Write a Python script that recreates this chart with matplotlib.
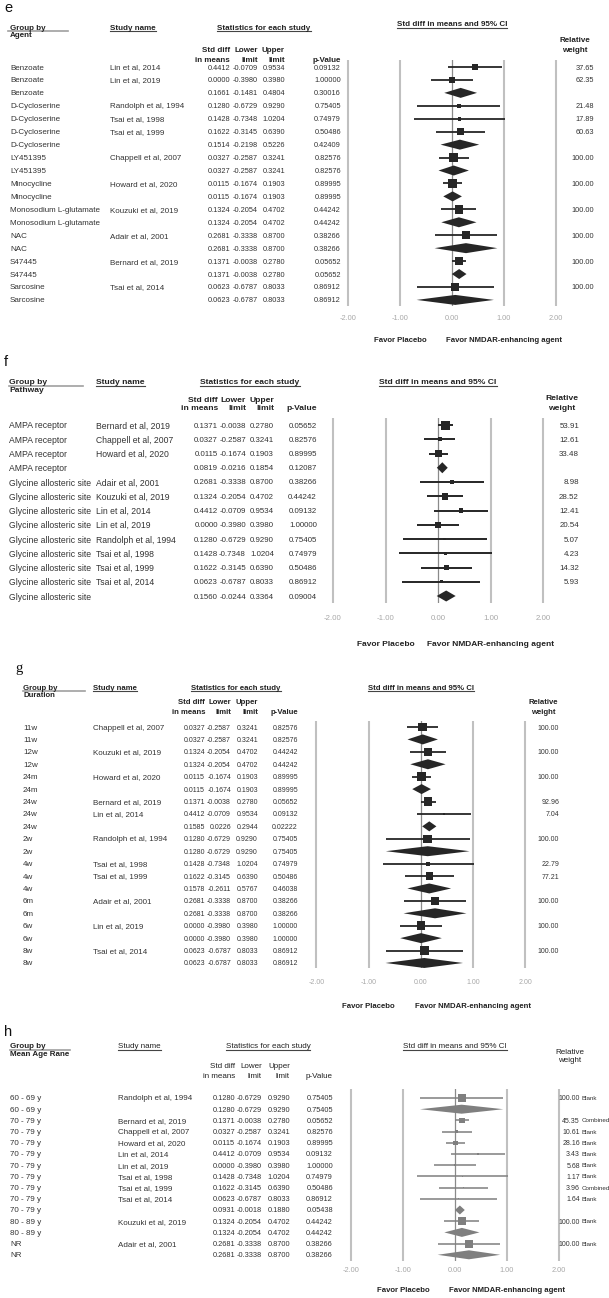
import matplotlib
matplotlib.use("Agg")
import matplotlib.pyplot as plt
from matplotlib.transforms import Affine2D, blended_transform_factory
from matplotlib.lines import Line2D
import numpy as np

plt.rcParams['font.family'] = ['Liberation Sans', 'DejaVu Sans']

W, H = 609, 1298

# ---------------- data ----------------
ticks = [-2, -1, 0, 1, 2]
tick_labels = ["-2.00", "-1.00", "0.00", "1.00", "2.00"]
favor_left = "Favor Placebo"
favor_right = "Favor NMDAR-enhancing agent"

# Panel e : by agent
e_groups = ["Benzoate", "Benzoate", "Benzoate",
            "D-Cycloserine", "D-Cycloserine", "D-Cycloserine", "D-Cycloserine",
            "LY451395", "LY451395", "Minocycline", "Minocycline",
            "Monosodium L-glutamate", "Monosodium L-glutamate", "NAC", "NAC",
            "S47445", "S47445", "Sarcosine", "Sarcosine"]
e_studies = ["Lin et al, 2014", "Lin et al, 2019", "",
             "Randolph et al, 1994", "Tsai et al, 1998", "Tsai et al, 1999", "",
             "Chappell et al, 2007", "", "Howard et al, 2020", "",
             "Kouzuki et al, 2019", "", "Adair et al, 2001", "",
             "Bernard et al, 2019", "", "Tsai et al, 2014", ""]
e_smd = [0.4412, 0.0000, 0.1661, 0.1280, 0.1428, 0.1622, 0.1514, 0.0327, 0.0327,
         0.0115, 0.0115, 0.1324, 0.1324, 0.2681, 0.2681, 0.1371, 0.1371, 0.0623, 0.0623]
e_lower = [-0.0709, -0.3980, -0.1481, -0.6729, -0.7348, -0.3145, -0.2198, -0.2587, -0.2587,
           -0.1674, -0.1674, -0.2054, -0.2054, -0.3338, -0.3338, -0.0038, -0.0038, -0.6787, -0.6787]
e_upper = [0.9534, 0.3980, 0.4804, 0.9290, 1.0204, 0.6390, 0.5226, 0.3241, 0.3241,
           0.1903, 0.1903, 0.4702, 0.4702, 0.8700, 0.8700, 0.2780, 0.2780, 0.8033, 0.8033]
e_p = ["0.09132", "1.00000", "0.30016", "0.75405", "0.74979", "0.50486", "0.42409",
       "0.82576", "0.82576", "0.89995", "0.89995", "0.44242", "0.44242", "0.38266",
       "0.38266", "0.05652", "0.05652", "0.86912", "0.86912"]
e_weight = [37.65, 62.35, None, 21.48, 17.89, 60.63, None, 100.00, None, 100.00, None,
            100.00, None, 100.00, None, 100.00, None, 100.00, None]

# Panel f : by pathway
f_groups = ["AMPA receptor"] * 4 + ["Glycine allosteric site"] * 9
f_studies = ["Bernard et al, 2019", "Chappell et al, 2007", "Howard et al, 2020", "",
             "Adair et al, 2001", "Kouzuki et al, 2019", "Lin et al, 2014", "Lin et al, 2019",
             "Randolph et al, 1994", "Tsai et al, 1998", "Tsai et al, 1999", "Tsai et al, 2014", ""]
f_smd = [0.1371, 0.0327, 0.0115, 0.0819, 0.2681, 0.1324, 0.4412, 0.0000, 0.1280,
         0.1428, 0.1622, 0.0623, 0.1560]
f_lower = [-0.0038, -0.2587, -0.1674, -0.0216, -0.3338, -0.2054, -0.0709, -0.3980,
           -0.6729, -0.7348, -0.3145, -0.6787, -0.0244]
f_upper = [0.2780, 0.3241, 0.1903, 0.1854, 0.8700, 0.4702, 0.9534, 0.3980, 0.9290,
           1.0204, 0.6390, 0.8033, 0.3364]
f_p = ["0.05652", "0.82576", "0.89995", "0.12087", "0.38266", "0.44242", "0.09132",
       "1.00000", "0.75405", "0.74979", "0.50486", "0.86912", "0.09004"]
f_weight = [53.91, 12.61, 33.48, None, 8.98, 28.52, 12.41, 20.54, 5.07, 4.23, 14.32, 5.93, None]

# Panel g : by duration
g_groups = ["11w", "11w", "12w", "12w", "24m", "24m", "24w", "24w", "24w", "2w", "2w",
            "4w", "4w", "4w", "6m", "6m", "6w", "6w", "8w", "8w"]
g_studies = ["Chappell et al, 2007", "", "Kouzuki et al, 2019", "", "Howard et al, 2020", "",
             "Bernard et al, 2019", "Lin et al, 2014", "", "Randolph et al, 1994", "",
             "Tsai et al, 1998", "Tsai et al, 1999", "", "Adair et al, 2001", "",
             "Lin et al, 2019", "", "Tsai et al, 2014", ""]
g_smd = [0.0327, 0.0327, 0.1324, 0.1324, 0.0115, 0.0115, 0.1371, 0.4412, 0.1585, 0.1280,
         0.1280, 0.1428, 0.1622, 0.1578, 0.2681, 0.2681, 0.0000, 0.0000, 0.0623, 0.0623]
g_lower = [-0.2587, -0.2587, -0.2054, -0.2054, -0.1674, -0.1674, -0.0038, -0.0709, 0.0226,
           -0.6729, -0.6729, -0.7348, -0.3145, -0.2611, -0.3338, -0.3338, -0.3980, -0.3980,
           -0.6787, -0.6787]
g_upper = [0.3241, 0.3241, 0.4702, 0.4702, 0.1903, 0.1903, 0.2780, 0.9534, 0.2944, 0.9290,
           0.9290, 1.0204, 0.6390, 0.5767, 0.8700, 0.8700, 0.3980, 0.3980, 0.8033, 0.8033]
g_p = ["0.82576", "0.82576", "0.44242", "0.44242", "0.89995", "0.89995", "0.05652",
       "0.09132", "0.02222", "0.75405", "0.75405", "0.74979", "0.50486", "0.46038",
       "0.38266", "0.38266", "1.00000", "1.00000", "0.86912", "0.86912"]
g_weight = [100.00, None, 100.00, None, 100.00, None, 92.96, 7.04, None, 100.00, None,
            22.79, 77.21, None, 100.00, None, 100.00, None, 100.00, None]

# Panel h : by mean age range
h_groups = ["60 - 69 y"] * 2 + ["70 - 79 y"] * 9 + ["80 - 89 y"] * 2 + ["NR"] * 2
h_studies = ["Randolph et al, 1994", "", "Bernard et al, 2019", "Chappell et al, 2007",
             "Howard et al, 2020", "Lin et al, 2014", "Lin et al, 2019", "Tsai et al, 1998",
             "Tsai et al, 1999", "Tsai et al, 2014", "", "Kouzuki et al, 2019", "",
             "Adair et al, 2001", ""]
h_smd = [0.1280, 0.1280, 0.1371, 0.0327, 0.0115, 0.4412, 0.0000, 0.1428, 0.1622, 0.0623,
         0.0931, 0.1324, 0.1324, 0.2681, 0.2681]
h_lower = [-0.6729, -0.6729, -0.0038, -0.2587, -0.1674, -0.0709, -0.3980, -0.7348, -0.3145,
           -0.6787, -0.0018, -0.2054, -0.2054, -0.3338, -0.3338]
h_upper = [0.9290, 0.9290, 0.2780, 0.3241, 0.1903, 0.9534, 0.3980, 1.0204, 0.6390, 0.8033,
           0.1880, 0.4702, 0.4702, 0.8700, 0.8700]
h_p = ["0.75405", "0.75405", "0.05652", "0.82576", "0.89995", "0.09132", "1.00000",
       "0.74979", "0.50486", "0.86912", "0.05438", "0.44242", "0.44242", "0.38266", "0.38266"]
h_weight = [100.00, None, 45.35, 10.61, 28.16, 3.43, 5.68, 1.17, 3.96, 1.64, None,
            100.00, None, 100.00, None]
h_note = ["Blank", "", "Combined", "Blank", "Blank", "Blank", "Blank", "Blank", "Combined",
          "Blank", "", "Blank", "", "Blank", ""]

# ---------------- layout (pixels) ----------------
E = dict(label='e', label_family=['Liberation Sans'], label_xy=(4, 7), title='Agent',
         fs=5.8, hfs=5.8, nfs=5.3, wfs=5.3, x0=452, scale=52.1, grid_top=60, grid_bot=306,
         row0=67, dr=12.94, tick_y=318, favor_y=340, c_grp=10, c_study=110, c_sd=230,
         c_lo=258, c_up=285, c_p=341, c_w=594, c_note=None, nofs=5.3, h1=27, h2=34.5,
         ul_y=31, grp_ul=(8, 68), stat_center=264, sh1=49, sh2=59, ci_y=24, rw_center=575,
         rw1=40, rw2=50, box=8.5, dh=5, ci_lw=1.3, mcolor='#262626', hweight='bold')
F = dict(label='f', label_family=['Liberation Sans'], label_xy=(4, 360), title='Pathway',
         fs=6.2, hfs=6.1, nfs=5.7, wfs=5.7, x0=438, scale=52.5, grid_top=418, grid_bot=603,
         row0=425, dr=14.25, tick_y=617, favor_y=644, c_grp=9, c_study=96, c_sd=218,
         c_lo=246, c_up=274, c_p=317, c_w=579, c_note=None, nofs=5.7, h1=381.5, h2=389,
         ul_y=385.5, grp_ul=(9, 83), stat_center=250, sh1=399, sh2=408, ci_y=382,
         rw_center=562, rw1=398, rw2=408, box=9, dh=5.5, ci_lw=1.4, mcolor='#262626',
         hweight='bold')
G = dict(label='g', label_family=['Liberation Serif'], label_xy=(15, 667), title='Duration',
         fs=5.8, hfs=5.6, nfs=5.0, wfs=5.0, x0=421, scale=52.25, grid_top=721, grid_bot=968,
         row0=727, dr=12.42, tick_y=982, favor_y=1005, c_grp=23, c_study=93, c_sd=205,
         c_lo=231, c_up=258, c_p=298, c_w=559, c_note=None, nofs=5.0, h1=687, h2=694.5,
         ul_y=690.5, grp_ul=(23, 85), stat_center=236, sh1=702, sh2=711, ci_y=687,
         rw_center=543, rw1=702, rw2=711, box=8.5, dh=5, ci_lw=1.3, mcolor='#262626',
         hweight='bold')
Hh = dict(label='h', label_family=['Liberation Sans'], label_xy=(4, 1030), title='Mean Age Rane',
          fs=5.8, hfs=5.8, nfs=5.3, wfs=5.0, x0=455, scale=52.0, grid_top=1089, grid_bot=1261,
          row0=1098, dr=11.2, tick_y=1269, favor_y=1290, c_grp=10, c_study=118, c_sd=235,
          c_lo=262, c_up=290, c_p=333, c_w=580, c_note=581.5, nofs=4.5, h1=1046, h2=1054,
          ul_y=1050, grp_ul=(10, 70), stat_center=268, sh1=1066, sh2=1075, ci_y=1046,
          rw_center=570, rw1=1051, rw2=1060, box=8, dh=4.5, ci_lw=1.1, mcolor='#7f7f7f',
          hweight='normal')

fig = plt.figure(figsize=(W / 100, H / 100), dpi=100)
PX = Affine2D().scale(1 / W, -1 / H).translate(0, 1) + fig.transFigure
renderer = fig.canvas.get_renderer()
TXT = '#333333'
VA = 'center_baseline'


def ptext(x, y, s, **kw):
    kw.setdefault('va', VA)
    kw.setdefault('fontsize', 6)
    kw.setdefault('color', '#222222')
    return fig.text(x, y, s, transform=PX, **kw)


def underline(t, y, color='#444444', lw=0.8):
    bb = t.get_window_extent(renderer)
    fig.add_artist(Line2D([bb.x0, bb.x1], [y, y], transform=PX, color=color, lw=lw))


def panel(L, groups, studies, smd, lower, upper, pvals, weights, notes=None):
    n = len(groups)
    smd = np.array(smd, float)
    lower = np.array(lower, float)
    upper = np.array(upper, float)
    is_study = np.array([s != "" for s in studies])
    w = np.array([np.nan if v is None else v for v in weights], float)
    x0, sc = L['x0'], L['scale']
    gt, gb = L['grid_top'], L['grid_bot']
    ax = fig.add_axes([0, 1 - gb / H, 1, (gb - gt) / H])
    ax.set_xlim(-x0 / sc, (W - x0) / sc)
    r0, dr = L['row0'], L['dr']
    ax.set_ylim((gb - r0) / dr, (gt - r0) / dr)
    ax.set_axis_off()
    for t in ticks:
        if t == 0:
            ax.axvline(t, color='#8a8a8a', lw=0.9, zorder=1)
        else:
            ax.axvline(t, color='#c0c0c0', lw=1.5, zorder=1)
    y = np.arange(n)
    mc = L['mcolor']
    ax.hlines(y[is_study], lower[is_study], upper[is_study], color=mc, lw=L['ci_lw'], zorder=2)
    wmax = np.nanmax(w)
    side_px = L['box'] * np.sqrt(w[is_study] / wmax)
    ax.scatter(smd[is_study], y[is_study], s=(side_px * 0.72) ** 2, marker='s',
               color=mc, linewidths=0, zorder=3)
    hh = L['dh'] / dr
    for i in np.where(~is_study)[0]:
        ax.fill([lower[i], smd[i], upper[i], smd[i]], [i, i - hh, i, i + hh],
                color=mc, lw=0, zorder=3)

    T = blended_transform_factory(PX, ax.transData)
    fs, nfs = L['fs'], L['nfs']
    kw = dict(transform=T, va=VA, color=TXT)
    for i in range(n):
        ax.text(L['c_grp'], i, groups[i], ha='left', fontsize=fs, **kw)
        if studies[i]:
            ax.text(L['c_study'], i, studies[i], ha='left', fontsize=fs, **kw)
        ax.text(L['c_sd'], i, f"{smd[i]:.4f}", ha='right', fontsize=nfs, **kw)
        ax.text(L['c_lo'], i, f"{lower[i]:.4f}", ha='right', fontsize=nfs, **kw)
        ax.text(L['c_up'], i, f"{upper[i]:.4f}", ha='right', fontsize=nfs, **kw)
        ax.text(L['c_p'], i, pvals[i], ha='right', fontsize=nfs, **kw)
        if weights[i] is not None:
            ax.text(L['c_w'], i, f"{weights[i]:.2f}", ha='right', fontsize=L['wfs'], **kw)
        if notes is not None and notes[i]:
            ax.text(L['c_note'], i, notes[i], ha='left', fontsize=L['nofs'], **kw)

    TB = blended_transform_factory(ax.transData, PX)
    for t, lab in zip(ticks, tick_labels):
        ax.text(t, L['tick_y'], lab, transform=TB, ha='center', va=VA, fontsize=nfs, color='#a8a8a8')
    ax.text(-1, L['favor_y'], favor_left, transform=TB, ha='center', va=VA,
            fontsize=fs - 0.2, color='#222222', fontweight='bold')
    ax.text(1, L['favor_y'], favor_right, transform=TB, ha='center', va=VA,
            fontsize=fs - 0.2, color='#222222', fontweight='bold')

    # headers
    hw = L['hweight']
    hfs = L['hfs']
    ptext(L['label_xy'][0], L['label_xy'][1], L['label'], fontsize=10.5,
          family=L['label_family'], ha='left', color='#111111')
    ptext(L['c_grp'], L['h1'], "Group by", fontsize=hfs, fontweight='bold', ha='left')
    ptext(L['c_grp'], L['h2'], L['title'], fontsize=hfs, fontweight='bold', ha='left')
    fig.add_artist(Line2D(list(L['grp_ul']), [L['ul_y'], L['ul_y']], transform=PX,
                          color='#a0a0a0', lw=1.2))
    t = ptext(L['c_study'], L['h1'], "Study name", fontsize=hfs, fontweight=hw, ha='left')
    underline(t, L['ul_y'])
    t = ptext(L['stat_center'], L['h1'], "Statistics for each study", fontsize=hfs,
              fontweight=hw, ha='center')
    underline(t, L['ul_y'])
    ptext(L['c_sd'], L['sh1'], "Std diff", fontsize=hfs, fontweight=hw, ha='right')
    ptext(L['c_sd'], L['sh2'], "in means", fontsize=hfs, fontweight=hw, ha='right')
    ptext(L['c_lo'], L['sh1'], "Lower", fontsize=hfs, fontweight=hw, ha='right')
    ptext(L['c_lo'], L['sh2'], "limit", fontsize=hfs, fontweight=hw, ha='right')
    ptext(L['c_up'], L['sh1'], "Upper", fontsize=hfs, fontweight=hw, ha='right')
    ptext(L['c_up'], L['sh2'], "limit", fontsize=hfs, fontweight=hw, ha='right')
    ptext(L['c_p'], L['sh2'], "p-Value", fontsize=hfs, fontweight=hw, ha='right')
    t = ptext(L['x0'], L['ci_y'], "Std diff in means and 95% CI", fontsize=hfs,
              fontweight=hw, ha='center')
    underline(t, L['ci_y'] + 3.5)
    ptext(L['rw_center'], L['rw1'], "Relative", fontsize=hfs, fontweight=hw, ha='center')
    ptext(L['rw_center'], L['rw2'], "weight", fontsize=hfs, fontweight=hw, ha='center')


panel(E, e_groups, e_studies, e_smd, e_lower, e_upper, e_p, e_weight)
panel(F, f_groups, f_studies, f_smd, f_lower, f_upper, f_p, f_weight)
panel(G, g_groups, g_studies, g_smd, g_lower, g_upper, g_p, g_weight)
panel(Hh, h_groups, h_studies, h_smd, h_lower, h_upper, h_p, h_weight, h_note)

fig.savefig("out.png", dpi=100, facecolor='white')
